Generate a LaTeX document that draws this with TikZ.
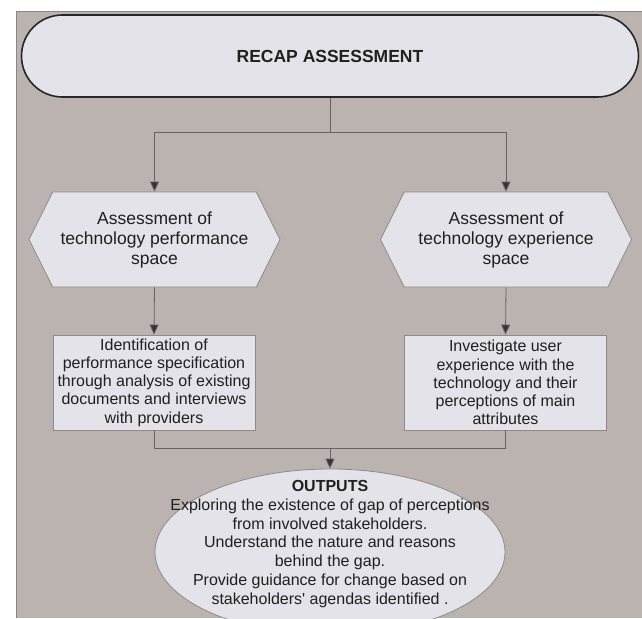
\documentclass[tikz,border=0pt]{standalone}
\usepackage{fontspec}
\setmainfont{Liberation Sans}
\usetikzlibrary{shapes.misc,shapes.symbols,shapes.geometric,arrows.meta}
\definecolor{bggray}{HTML}{BBB3AF}
\definecolor{bgline}{HTML}{8E8682}
\definecolor{nodefill}{HTML}{E3E3E9}
\definecolor{nodeline}{HTML}{8F8A89}
\definecolor{conn}{HTML}{6A6260}
\definecolor{tipc}{HTML}{3A3434}
\definecolor{txt}{HTML}{202020}
\tikzset{
  topbox/.style={rounded rectangle, draw=black!85, line width=1.6pt, fill=nodefill,
    minimum width=617pt, minimum height=82pt, inner sep=0pt, text=txt,
    font=\fontsize{17.5}{20}\selectfont\bfseries},
  hexbox/.style={signal, signal to=west and east, signal pointer angle=127,
    draw=nodeline, line width=0.8pt, fill=nodefill, minimum width=251pt,
    minimum height=95pt, inner sep=0pt, align=center, text=txt,
    font=\fontsize{17.5}{20}\selectfont},
  taskbox/.style={rectangle, draw=nodeline, line width=0.8pt, fill=nodefill,
    minimum width=202pt, minimum height=95pt, inner sep=0pt, align=center, text=txt,
    font=\fontsize{16}{18.2}\selectfont},
  outbox/.style={ellipse, draw=nodeline, line width=0.8pt, fill=nodefill,
    minimum width=350pt, minimum height=166pt, inner sep=0pt},
  conline/.style={draw=conn, line width=0.8pt},
  arrowline/.style={conline, -{Triangle[width=9pt,length=10pt,fill=tipc]}},
}
\begin{document}
\begin{tikzpicture}[x=1pt,y=-1pt]
\useasboundingbox (0,0) rectangle (642,618);
\fill[white] (0,0) rectangle (642,618);
\fill[bggray] (16,11) rectangle (642,618);
\draw[bgline, line width=0.8pt] (16,618) -- (16,11) -- (642,11);

\node[topbox] (top) at (330,56) {RECAP ASSESSMENT};
\node[hexbox] (hexL) at (154.5,239.5) {Assessment of\\technology performance\\space};
\node[hexbox] (hexR) at (506,239.5) {Assessment of\\technology experience\\space};
\node[taskbox] (recL) at (154,382.5) {Identification of\\performance specification\\through analysis of existing\\documents and interviews\\with providers};
\node[taskbox] (recR) at (505.5,382.5) {Investigate user\\experience with the\\technology and their\\perceptions of main\\attributes};
\node[outbox, label={[align=center, text=txt, font=\fontsize{16}{18.7}\selectfont, yshift=8pt]center:{\textbf{OUTPUTS}\\Exploring the existence of gap of perceptions\\from involved stakeholders.\\Understand the nature and reasons\\behind the gap.\\Provide guidance for change based on\\stakeholders\textquotesingle{} agendas identified .}}] (out) at (330,552) {};

\coordinate (tj) at (330,132);
\coordinate (bj) at (330,448);
\draw[conline] (top.south) -- (tj);
\draw[arrowline] (tj) -| (hexL.north);
\draw[arrowline] (tj) -| (hexR.north);
\draw[arrowline] (hexL.south) -- (recL.north);
\draw[arrowline] (hexR.south) -- (recR.north);
\draw[conline] (recL.south) |- (bj);
\draw[conline] (recR.south) |- (bj);
\draw[arrowline] (bj) -- (out.north);
\end{tikzpicture}
\end{document}
